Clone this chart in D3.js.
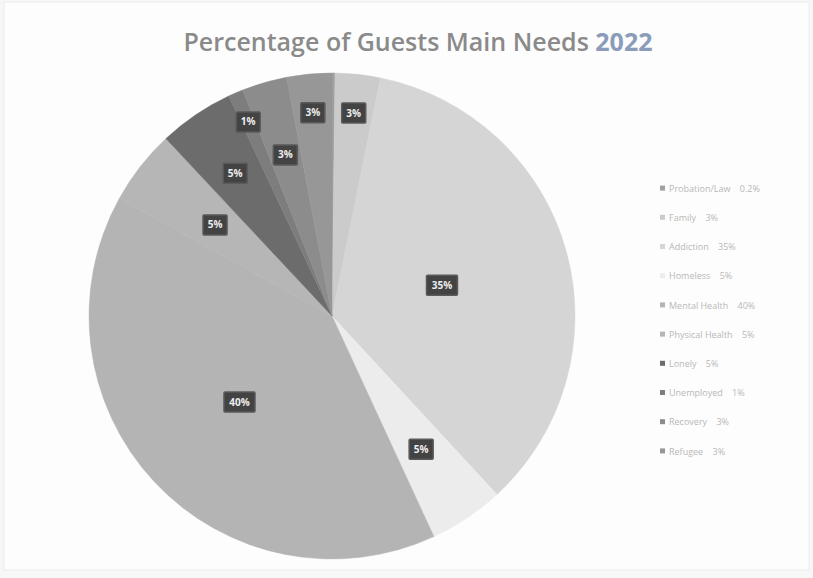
<!DOCTYPE html>
<html>
<head>
<meta charset="utf-8">
<script src="https://cdn.jsdelivr.net/npm/d3@7"></script>
<style>
  body { margin: 0; background: #fafafa; }
  text { font-family: "Open Sans", "Liberation Sans", sans-serif; }
</style>
</head>
<body>
<div id="chart"></div>
<script>
// data
const categories = ["Probation/Law", "Family", "Addiction", "Homeless", "Mental Health",
                    "Physical Health", "Lonely", "Unemployed", "Recovery", "Refugee"];
const values = [0.2, 3, 35, 5, 40, 5, 5, 1, 3, 3];
const valueLabels = ["0.2%", "3%", "35%", "5%", "40%", "5%", "5%", "1%", "3%", "3%"];

// layout (not data): where each label sits, as a share of the radius
const labelRadius = [0, 0.84, 0.47, 0.66, 0.52, 0.61, 0.71, 0.87, 0.69, 0.84];

const width = 813;
const height = 578;

const svg = d3.select("#chart")
    .append("svg")
    .attr("width", width)
    .attr("height", height);

// background + faint frame
svg.append("rect")
    .attr("x", 0).attr("y", 0)
    .attr("width", width).attr("height", height)
    .attr("fill", "#f7f7f7");
svg.append("rect")
    .attr("x", 4).attr("y", 2)
    .attr("width", width - 8).attr("height", height - 10)
    .attr("fill", "#fdfdfd")
    .attr("stroke", "#ececec");

// title
const title = svg.append("text")
    .attr("x", 418)
    .attr("y", 51)
    .attr("text-anchor", "middle")
    .style("font-size", "25px")
    .style("font-weight", "600")
    .attr("fill", "#8a8a8a");
title.append("tspan").text("Percentage of Guests Main Needs ");
title.append("tspan").attr("fill", "#8b9bba").style("font-weight", "bold").text("2022");

// colours (greyscale like the scan)
const fillScale = d3.scaleOrdinal()
    .domain(categories)
    .range(["#a0a0a0", "#cbcbcb", "#d5d5d5", "#ececec", "#b4b4b4",
            "#b6b6b6", "#6c6c6c", "#7d7d7d", "#8c8c8c", "#979797"]);

const cx = 332, cy = 316, radius = 243;

const pie = d3.pie().sort(null).value(d => d.value);
const arcs = pie(categories.map((c, i) => ({ name: c, value: values[i], label: valueLabels[i], lr: labelRadius[i] })));

const arc = d3.arc().innerRadius(0).outerRadius(radius);

const g = svg.append("g").attr("transform", `translate(${cx},${cy})`);

g.selectAll("path")
    .data(arcs)
    .enter()
    .append("path")
    .attr("d", arc)
    .attr("fill", d => fillScale(d.data.name))
    .attr("stroke", d => fillScale(d.data.name))
    .attr("stroke-width", 0.5);

// data labels (dark boxes)
const labels = g.selectAll("g.lbl")
    .data(arcs.filter(d => d.data.lr > 0))
    .enter()
    .append("g")
    .attr("class", "lbl")
    .attr("transform", function(d) {
        const a = (d.startAngle + d.endAngle) / 2;
        const r = radius * d.data.lr;
        return `translate(${Math.sin(a) * r},${-Math.cos(a) * r})`;
    });

labels.append("rect")
    .attr("x", d => -(d.data.label.length * 7 + 10) / 2)
    .attr("y", -10)
    .attr("width", d => d.data.label.length * 7 + 10)
    .attr("height", 20)
    .attr("rx", 1)
    .attr("fill", "#434343")
    .attr("stroke", "#5a5a5a")
    .attr("stroke-width", 1.5);

labels.append("text")
    .attr("text-anchor", "middle")
    .attr("dy", "0.35em")
    .style("font-size", "10px")
    .style("font-weight", "bold")
    .attr("fill", "#eeeeee")
    .text(d => d.data.label);

// legend
const legendY = d3.scaleBand()
    .domain(categories)
    .range([174, 466]);

const legend = svg.append("g")
    .selectAll("g")
    .data(categories)
    .enter()
    .append("g")
    .attr("transform", d => `translate(660,${legendY(d) + legendY.bandwidth() / 2})`);

legend.append("rect")
    .attr("x", 0).attr("y", -3)
    .attr("width", 5).attr("height", 5)
    .attr("fill", d => fillScale(d));

legend.append("text")
    .attr("x", 9)
    .attr("dy", "0.35em")
    .style("font-size", "9px")
    .attr("fill", "#b8b8b8")
    .attr("xml:space", "preserve")
    .text((d, i) => `${d}    ${valueLabels[i]}`);
</script>
</body>
</html>
